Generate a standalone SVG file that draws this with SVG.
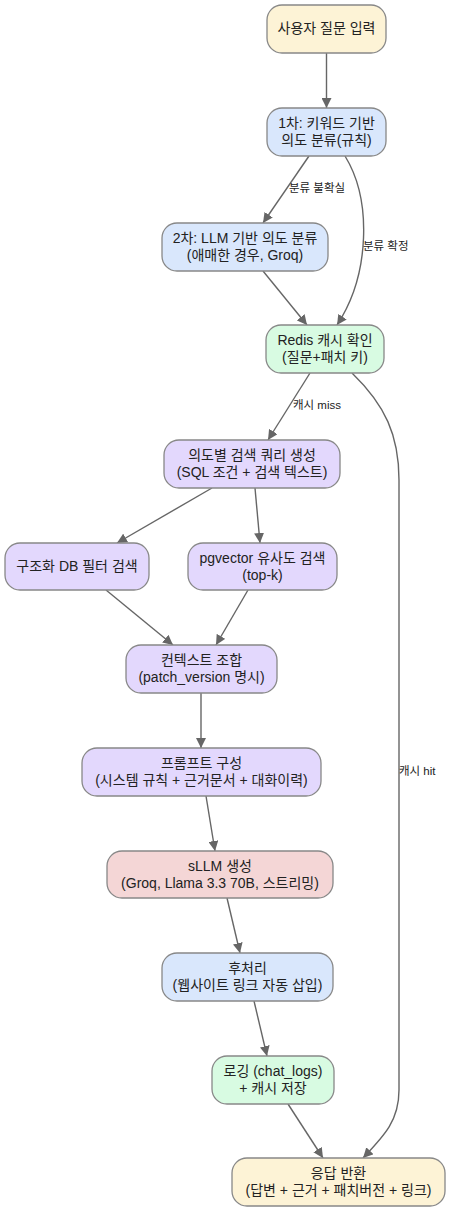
<svg xmlns="http://www.w3.org/2000/svg" width="451" height="1212" viewBox="0 0 451 1212">
<defs>
<marker id="arr" viewBox="0 0 10 10" refX="10" refY="5" markerWidth="10" markerHeight="10" markerUnits="userSpaceOnUse" orient="auto">
<path d="M0,0 L10,5 L0,10 z" fill="#666"/>
</marker>
<style>
.n rect{stroke:#888;stroke-width:1.3}
.y rect{fill:#fdf3d6}
.b rect{fill:#d9e7fc}
.g rect{fill:#d8fbe2}
.p rect{fill:#e3d8fd}
.r rect{fill:#f4d6d6}
.n text{font-family:"Liberation Sans","Noto Sans CJK KR",sans-serif;font-size:14px;fill:#222;text-anchor:middle}
#edges path{fill:none;stroke:#666;stroke-width:1.4;marker-end:url(#arr)}
#edges text{font-family:"Liberation Sans","Noto Sans CJK KR",sans-serif;font-size:11.5px;fill:#222}
</style>
</defs>
<rect width="451" height="1212" fill="#fff"/>
<g id="edges">
<path d="M326.5,53 L326.5,108"/>
<path d="M309,156 L263,223"/>
<path d="M345,156 C372,200 370,275 337,325"/>
<path d="M263,271 L307,325"/>
<path d="M310,373 L268,440"/>
<path d="M352,373 C385,405 399,435 399,480 L399,1090 C399,1120 385,1135 363,1158"/>
<path d="M212,488 L117,543"/>
<path d="M255,488 L260,543"/>
<path d="M106,590 L173,645"/>
<path d="M248,590 L216,645"/>
<path d="M201,693 L201,748"/>
<path d="M206,796 L215,851"/>
<path d="M227,898 L240,953"/>
<path d="M254,1001 L267,1056"/>
<path d="M288,1104 L323,1158"/>
<text x="289" y="192">분류 불확실</text>
<text x="363" y="250">분류 확정</text>
<text x="293" y="409">캐시 miss</text>
<text x="399" y="775">캐시 hit</text>
</g>
<g id="n1" class="n y"><rect x="267" y="5" width="119" height="48" rx="15"/><text x="326.5" y="33">사용자 질문 입력</text></g>
<g id="n2" class="n b"><rect x="267" y="108" width="119" height="48" rx="15"/><text x="326.5" y="128">1차: 키워드 기반</text><text x="326.5" y="145">의도 분류(규칙)</text></g>
<g id="n3" class="n b"><rect x="162" y="223" width="166" height="48" rx="15"/><text x="245" y="243">2차: LLM 기반 의도 분류</text><text x="245" y="260">(애매한 경우, Groq)</text></g>
<g id="n4" class="n g"><rect x="266" y="325" width="118" height="48" rx="15"/><text x="325" y="345">Redis 캐시 확인</text><text x="325" y="362">(질문+패치 키)</text></g>
<g id="n5" class="n p"><rect x="164" y="440" width="176" height="48" rx="15"/><text x="252" y="460">의도별 검색 쿼리 생성</text><text x="252" y="477">(SQL 조건 + 검색 텍스트)</text></g>
<g id="n6" class="n p"><rect x="5" y="543" width="144" height="47" rx="15"/><text x="77" y="571">구조화 DB 필터 검색</text></g>
<g id="n7" class="n p"><rect x="188" y="543" width="149" height="47" rx="15"/><text x="262.5" y="563">pgvector 유사도 검색</text><text x="262.5" y="580">(top-k)</text></g>
<g id="n8" class="n p"><rect x="126" y="645" width="151" height="48" rx="15"/><text x="201.5" y="665">컨텍스트 조합</text><text x="201.5" y="682">(patch_version 명시)</text></g>
<g id="n9" class="n p"><rect x="82" y="748" width="239" height="48" rx="15"/><text x="201.5" y="768">프롬프트 구성</text><text x="201.5" y="785">(시스템 규칙 + 근거문서 + 대화이력)</text></g>
<g id="n10" class="n r"><rect x="107" y="851" width="226" height="47" rx="15"/><text x="220" y="871">sLLM 생성</text><text x="220" y="888">(Groq, Llama 3.3 70B, 스트리밍)</text></g>
<g id="n11" class="n b"><rect x="162" y="953" width="171" height="48" rx="15"/><text x="247.5" y="973">후처리</text><text x="247.5" y="990">(웹사이트 링크 자동 삽입)</text></g>
<g id="n12" class="n g"><rect x="212" y="1056" width="122" height="48" rx="15"/><text x="273" y="1076">로깅 (chat_logs)</text><text x="273" y="1093">+ 캐시 저장</text></g>
<g id="n13" class="n y"><rect x="232" y="1158" width="213" height="48" rx="15"/><text x="338.5" y="1178">응답 반환</text><text x="338.5" y="1195">(답변 + 근거 + 패치버전 + 링크)</text></g>
</svg>
